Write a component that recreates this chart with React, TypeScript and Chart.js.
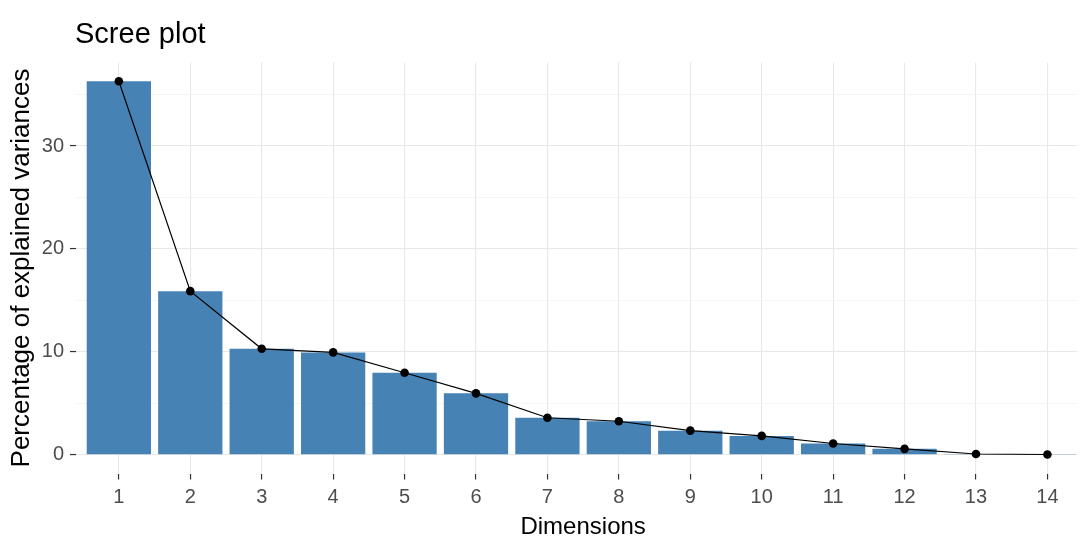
import { useEffect, useRef } from "react";
import { Chart, registerables } from "chart.js";

Chart.register(...registerables);

// ---- data ----
const dimensions = [1, 2, 3, 4, 5, 6, 7, 8, 9, 10, 11, 12, 13, 14];
const variances = [36.3, 15.9, 10.3, 9.95, 7.97, 5.97, 3.6, 3.26, 2.35, 1.84, 1.1, 0.58, 0.08, 0.03];
const yGridTicks = [0, 5, 10, 15, 20, 25, 30, 35];
const yLabelTicks = [0, 10, 20, 30];
const chartTitle = "Scree plot";
const xTitle = "Dimensions";
const yTitle = "Percentage of explained variances";

const FONT = "'Liberation Sans', Arial, sans-serif";
const BAR_COLOR = "#4682B4";

const titlePlugin = {
  id: "screeTitle",
  afterDraw(chart: any) {
    const ctx = chart.ctx;
    ctx.save();
    ctx.font = `29px ${FONT}`;
    ctx.fillStyle = "#000000";
    ctx.textAlign = "left";
    ctx.textBaseline = "alphabetic";
    ctx.fillText(chartTitle, chart.chartArea.left - 1, 43);
    // x axis title, centred on the full (partly cropped) panel
    const xs = chart.scales.x;
    const cx = xs.getPixelForValue((0.4 + 14.6) / 2);
    ctx.font = `24px ${FONT}`;
    ctx.textAlign = "center";
    ctx.fillText(xTitle, cx, 534);
    ctx.restore();
  },
};

export default function App() {
  const ref = useRef<HTMLCanvasElement | null>(null);

  useEffect(() => {
    if (!ref.current) return;
    const maxV = Math.max(...variances);
    const pad = maxV * 0.05;
    const chart = new Chart(ref.current, {
      type: "bar",
      data: {
        datasets: [
          {
            type: "line",
            data: dimensions.map((d, i) => ({ x: d, y: variances[i] })),
            borderColor: "#000000",
            borderWidth: 1.2,
            pointRadius: 4.3,
            pointBackgroundColor: "#000000",
            pointBorderColor: "#000000",
            pointBorderWidth: 0,
            tension: 0,
            order: 0,
          } as any,
          {
            type: "bar",
            data: dimensions.map((d, i) => ({ x: d, y: variances[i] })),
            backgroundColor: BAR_COLOR,
            borderWidth: 0,
            barPercentage: 0.9,
            categoryPercentage: 1.0,
            order: 1,
          } as any,
        ],
      },
      options: {
        responsive: false,
        animation: false,
        layout: { padding: { top: 62.5, left: 0, right: 0, bottom: 0 } },
        plugins: {
          legend: { display: false },
          tooltip: { enabled: false },
        },
        scales: {
          x: {
            type: "linear",
            min: 0.4,
            max: 14.41,
            offset: false,
            afterBuildTicks: (scale: any) => {
              scale.ticks = dimensions.map((v) => ({ value: v }));
            },
            afterFit: (scale: any) => {
              scale.height = 68.5;
            },
            border: { display: false },
            grid: {
              offset: false,
              color: "#e8e8e8",
              lineWidth: 1.1,
              tickLength: 6,
              tickColor: "#333333",
              tickWidth: 1.2,
            },
            ticks: {
              padding: 6,
              color: "#4d4d4d",
              font: { family: FONT, size: 20 },
              callback: (v: any) => String(v),
            },
            title: { display: false },
          },
          y: {
            type: "linear",
            min: -pad,
            max: maxV + pad,
            afterBuildTicks: (scale: any) => {
              scale.ticks = yGridTicks.map((v) => ({ value: v }));
            },
            afterFit: (scale: any) => {
              scale.width = 76;
            },
            border: { display: false },
            grid: {
              color: (c: any) => (c.tick && yLabelTicks.includes(c.tick.value) ? "#e8e8e8" : "#f1f1f1"),
              lineWidth: (c: any) => (c.tick && yLabelTicks.includes(c.tick.value) ? 1.1 : 0.7),
              tickLength: 6,
              tickColor: (c: any) =>
                c.tick && yLabelTicks.includes(c.tick.value) ? "#333333" : "rgba(0,0,0,0)",
              tickWidth: 1.2,
            },
            ticks: {
              padding: 6,
              color: "#4d4d4d",
              font: { family: FONT, size: 20 },
              callback: (v: any) => (yLabelTicks.includes(v) ? String(v) : ""),
            },
            title: {
              display: true,
              text: yTitle,
              color: "#000000",
              font: { family: FONT, size: 26 },
              padding: { top: 6, bottom: 0 },
            },
          },
        },
      },
      plugins: [titlePlugin],
    });
    return () => chart.destroy();
  }, []);

  return (
    <div style={{ position: "fixed", left: 0, top: 0, width: 1081, height: 542, background: "#ffffff" }}>
      <canvas ref={ref} width={1081} height={542} style={{ display: "block" }} />
    </div>
  );
}
